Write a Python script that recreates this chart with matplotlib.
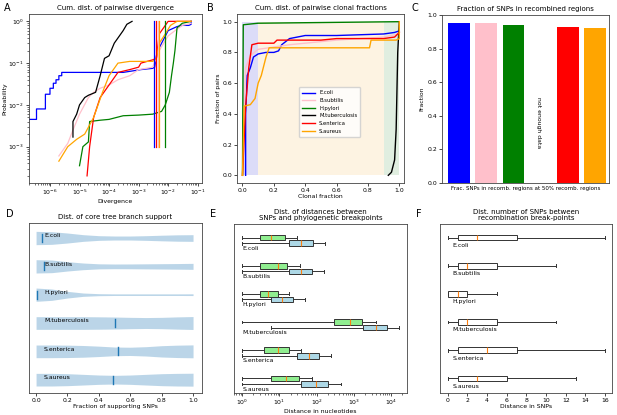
import numpy as np
import matplotlib
matplotlib.use("Agg")
import matplotlib.pyplot as plt

# species and colours shared by panels
species = ["E.coli", "B.subtilis", "H.pylori", "M.tuberculosis", "S.enterica", "S.aureus"]
colours = ["blue", "pink", "green", "black", "red", "orange"]

# A : cumulative distribution of pairwise divergence (x, y)
a_ecoli_x = [2e-7, 3.5e-7, 3.5e-7, 7e-7, 7e-7, 1e-6, 1e-6, 1.3e-6, 1.3e-6, 1.6e-6, 1.6e-6, 2e-6, 2e-6, 2.5e-6, 2.5e-6,
             3e-4, 1.2e-3, 3e-3, 3.5e-3, 4e-3, 4.5e-3, 6e-3, 1e-2, 2e-2, 3e-2, 5e-2, 6e-2, 6e-2]
a_ecoli_y = [4.5e-3, 4.5e-3, 8e-3, 8e-3, 1.8e-2, 1.8e-2, 2.5e-2, 2.5e-2, 3.3e-2, 3.3e-2, 4e-2, 4e-2, 5e-2, 5e-2, 6e-2,
             6e-2, 7e-2, 7.5e-2, 8e-2, 0.15, 0.2, 0.3, 0.6, 0.75, 0.8, 0.8, 0.85, 1.0]
a_bsub_x = [2e-6, 4e-6, 6e-6, 1e-5, 2e-5, 3e-5, 5e-5, 1e-4, 2e-4, 5e-4, 1e-3, 3e-3, 5e-3, 1e-2, 2e-2, 3e-2, 6e-2]
a_bsub_y = [6e-4, 1.2e-3, 2.5e-3, 6e-3, 1.5e-2, 2e-2, 2.5e-2, 3e-2, 4e-2, 5e-2, 7e-2, 8e-2, 0.2, 0.45, 0.65, 0.8, 0.9]
a_hpyl_x = [1e-5, 1.3e-5, 2e-5, 2.2e-5, 5e-5, 1e-4, 3e-4, 1e-3, 3e-3, 6e-3, 8e-3, 1.1e-2, 1.3e-2, 1.5e-2, 1.7e-2, 2e-2, 3e-2, 6e-2]
a_hpyl_y = [3.5e-4, 1e-3, 1.3e-3, 4e-3, 4.3e-3, 4.5e-3, 5.5e-3, 5.7e-3, 6e-3, 7e-3, 1e-2, 2e-2, 5e-2, 0.1, 0.2, 0.7, 0.9, 1.0]
a_mtub_x = [6e-6, 6e-6, 8e-6, 1e-5, 1.5e-5, 2e-5, 3.5e-5, 5e-5, 7e-5, 1e-4, 1.5e-4, 2e-4, 3e-4, 4e-4, 6e-4]
a_mtub_y = [1.7e-3, 4e-3, 6e-3, 1e-2, 1.5e-2, 1.7e-2, 2e-2, 5e-2, 0.13, 0.15, 0.3, 0.4, 0.6, 0.85, 1.0]
a_sent_x = [1.8e-5, 2.2e-5, 3e-5, 5e-5, 1e-4, 2e-4, 5e-4, 1e-3, 1.2e-3, 3e-3, 4e-3, 5e-3, 8e-3, 1e-2, 6e-2]
a_sent_y = [2e-4, 1e-3, 5e-3, 1.5e-2, 3e-2, 6e-2, 7e-2, 8e-2, 0.1, 0.12, 0.13, 0.5, 0.8, 1.0, 1.0]
a_saur_x = [2e-6, 4e-6, 8e-6, 1.5e-5, 3e-5, 6e-5, 1e-4, 2e-4, 5e-4, 3e-3, 4e-3, 5e-3, 8e-3, 1.2e-2, 2e-2, 6e-2]
a_saur_y = [4.5e-4, 1e-3, 1.5e-3, 2e-3, 5e-3, 2e-2, 5e-2, 0.1, 0.11, 0.11, 0.13, 0.3, 0.5, 0.8, 1.0, 1.0]
a_median = [3.2e-3, 4.4e-3, 7.7e-3, None, 4.0e-3, 4.9e-3]

# B : cumulative distribution of pairwise clonal fractions
b_ecoli_x = [0.02, 0.02, 0.03, 0.05, 0.07, 0.1, 0.15, 0.2, 0.23, 0.25, 0.3, 0.4, 0.6, 0.9, 0.97, 1.0]
b_ecoli_y = [0.0, 0.4, 0.65, 0.7, 0.77, 0.79, 0.8, 0.8, 0.81, 0.85, 0.89, 0.91, 0.91, 0.92, 0.93, 0.94]
b_bsub_x = [0.0, 0.02, 0.05, 0.1, 0.3, 0.6, 0.9, 1.0]
b_bsub_y = [0.0, 0.7, 0.78, 0.82, 0.85, 0.88, 0.9, 0.92]
b_hpyl_x = [0.0, 0.005, 0.1, 1.0]
b_hpyl_y = [0.0, 0.98, 0.99, 1.0]
b_mtub_x = [0.93, 0.95, 0.97, 0.98, 0.99, 1.0]
b_mtub_y = [0.0, 0.02, 0.1, 0.3, 0.8, 1.0]
b_sent_x = [0.0, 0.02, 0.04, 0.06, 0.1, 0.2, 0.22, 0.5, 0.6, 0.9, 0.97, 1.0]
b_sent_y = [0.0, 0.45, 0.7, 0.85, 0.86, 0.86, 0.88, 0.88, 0.89, 0.89, 0.9, 0.93]
b_saur_x = [0.0, 0.01, 0.05, 0.08, 0.1, 0.12, 0.15, 0.17, 0.3, 0.81, 0.82, 0.98, 1.0, 1.0]
b_saur_y = [0.0, 0.45, 0.46, 0.5, 0.6, 0.65, 0.77, 0.83, 0.83, 0.83, 0.88, 0.88, 0.89, 1.0]

# C : fraction of SNPs in recombined regions (nan = not enough data)
c_fraction = [0.95, 0.95, 0.94, np.nan, 0.93, 0.92]

# D : violin profiles (relative half width) over fraction of supporting SNPs
d_grid = [0.0, 0.1, 0.2, 0.3, 0.4, 0.5, 0.6, 0.7, 0.8, 0.9, 1.0]
d_profiles = [
    [1.0, 0.95, 0.75, 0.5, 0.35, 0.3, 0.3, 0.35, 0.42, 0.48, 0.5],
    [1.0, 0.95, 0.7, 0.5, 0.38, 0.35, 0.36, 0.38, 0.4, 0.42, 0.45],
    [1.0, 0.85, 0.5, 0.25, 0.15, 0.12, 0.12, 0.12, 0.12, 0.12, 0.13],
    [0.95, 0.95, 0.95, 0.95, 0.93, 0.9, 0.85, 0.82, 0.85, 0.92, 0.97],
    [0.95, 0.95, 0.93, 0.88, 0.78, 0.65, 0.62, 0.7, 0.85, 0.93, 0.97],
    [0.95, 0.95, 0.9, 0.8, 0.7, 0.65, 0.7, 0.8, 0.9, 0.95, 0.97],
]
d_median = [0.04, 0.05, 0.005, 0.5, 0.52, 0.49]

# E : distances SNP - breakpoints (whislo, q1, med, q3, whishi)
e_snp = [[1, 3, 6, 14, 30], [1, 3, 9, 16, 36], [1, 3, 5, 9, 18],
         [1, 290, 790, 1700, 3900], [1, 3.9, 9, 18, 39], [1, 6, 15, 33, 73]]
e_phylo = [[1, 18, 39, 78, 167], [1, 17.6, 39, 73, 157], [1, 6.1, 12, 23.5, 48],
           [6, 1730, 3860, 7900, 16700], [1, 30, 62, 118, 250], [1, 39, 96, 205, 450]]

# F : number of SNPs between recombination break-points
f_snps = [[0, 1, 3, 7, 16], [0, 1, 2, 5, 11], [0, 0, 1, 2, 5],
          [0, 1, 2, 5, 11], [0, 1, 4, 7, 16], [0, 1, 3, 6, 13]]

TF = 5.0   # title size
LF = 4.4   # label size
KF = 4.4   # tick size


def stats(rows):
    return [dict(whislo=r[0], q1=r[1], med=r[2], q3=r[3], whishi=r[4], fliers=[]) for r in rows]


def style(ax):
    for s in ax.spines.values():
        s.set_linewidth(0.6)
        s.set_color("#444444")
    ax.tick_params(labelsize=KF, width=0.5, length=2, pad=1.5)


fig = plt.figure(figsize=(6.17, 4.15), dpi=100)
W, H = 617.0, 415.0


def axes_px(x0, y0, x1, y1):
    return fig.add_axes([x0 / W, 1 - y1 / H, (x1 - x0) / W, (y1 - y0) / H])


# ---- A
ax = axes_px(29, 14, 202, 183)
a_x = [a_ecoli_x, a_bsub_x, a_hpyl_x, a_mtub_x, a_sent_x, a_saur_x]
a_y = [a_ecoli_y, a_bsub_y, a_hpyl_y, a_mtub_y, a_sent_y, a_saur_y]
for xs, ys, c in zip(a_x, a_y, colours):
    ax.plot(xs, ys, color=c, lw=0.9)
for m, c in zip(a_median, colours):
    if m is not None:
        ax.plot([m, m], [1e-3, 1.0], color=c, lw=0.9)
ax.set_xscale("log")
ax.set_yscale("log")
ax.set_xlim(1.95e-7, 0.14)
ax.set_ylim(1.35e-4, 1.5)
ax.set_title("Cum. dist. of pairwise divergence", fontsize=TF, pad=3)
ax.set_xlabel("Divergence", fontsize=LF, labelpad=1)
ax.set_ylabel("Probability", fontsize=LF, labelpad=1)
style(ax)
ax.tick_params(which="minor", width=0.4, length=1.2)

# ---- B
ax = axes_px(237, 14, 404, 183)
ax.fill_between([0.0, 0.1], 0, 1, color="#dcdcf8", lw=0)
ax.fill_between([0.1, 0.9], 0, 1, color="#fdf3e2", lw=0)
ax.fill_between([0.9, 1.0], 0, 1, color="#e0eee0", lw=0)
b_x = [b_ecoli_x, b_bsub_x, b_hpyl_x, b_mtub_x, b_sent_x, b_saur_x]
b_y = [b_ecoli_y, b_bsub_y, b_hpyl_y, b_mtub_y, b_sent_y, b_saur_y]
for xs, ys, c, name in zip(b_x, b_y, colours, species):
    ax.plot(xs, ys, color=c, lw=1.0, label=name)
ax.set_xlim(-0.035, 1.03)
ax.set_ylim(-0.05, 1.05)
ax.set_xticks(np.arange(0, 1.01, 0.2))
ax.set_yticks(np.arange(0, 1.01, 0.2))
ax.set_title("Cum. dist. of pairwise clonal fractions", fontsize=TF, pad=3)
ax.set_xlabel("Clonal fraction", fontsize=LF, labelpad=1)
ax.set_ylabel("Fraction of pairs", fontsize=LF, labelpad=1)
ax.legend(loc="center", bbox_to_anchor=(0.555, 0.42), fontsize=3.8, frameon=True,
          handlelength=2.4, borderpad=0.6, labelspacing=0.5, framealpha=0.8)
style(ax)

# ---- C
ax = axes_px(442, 15, 609, 183)
ax.bar(np.arange(len(species)), c_fraction, width=0.8, color=colours)
ax.text(2.9, 0.36, "not enough data", rotation=-90, ha="center", va="center", fontsize=LF)
ax.set_xlim(-0.62, 5.5)
ax.set_ylim(0, 1.0)
ax.set_xticks([])
ax.set_yticks(np.arange(0, 1.01, 0.2))
ax.set_title("Fraction of SNPs in recombined regions", fontsize=TF, pad=3)
ax.set_xlabel("Frac. SNPs in recomb. regions at 50% recomb. regions", fontsize=4.0, labelpad=2)
ax.set_ylabel("Fraction", fontsize=LF, labelpad=2)
style(ax)

# ---- D
ax = axes_px(29, 223, 202, 393)
for i, (prof, med, name) in enumerate(zip(d_profiles, d_median, species)):
    yc = i + 0.53
    hw = 0.235 * np.array(prof)
    ax.fill_between(d_grid, yc - hw, yc + hw, color="#1f77b4", alpha=0.3, lw=0)
    ax.plot([med, med], [yc - 0.14, yc + 0.14], color="#1f77b4", lw=1.0)
    ax.text(0.05, yc - 0.08, name, fontsize=LF, ha="left", va="center")
ax.set_ylim(6, 0)
ax.set_xlim(-0.045, 1.057)
ax.set_yticks([])
ax.set_xticks(np.arange(0, 1.01, 0.2))
ax.set_title("Dist. of core tree branch support", fontsize=TF, pad=3)
ax.set_xlabel("Fraction of supporting SNPs", fontsize=LF, labelpad=1)
style(ax)

# ---- E
ax = axes_px(234, 224, 407, 393)
pos = np.arange(len(species))
box_kw = dict(orientation="horizontal", patch_artist=True, widths=0.2, manage_ticks=False,
              whiskerprops=dict(lw=0.7, color="#333333"), capprops=dict(lw=0.7, color="#333333"),
              medianprops=dict(lw=0.8, color="#ff7f0e"))
ax.bxp(stats(e_snp), positions=pos + 0.48, boxprops=dict(facecolor="lightgreen", edgecolor="#333333", lw=0.7), **box_kw)
ax.bxp(stats(e_phylo), positions=pos + 0.68, boxprops=dict(facecolor="lightblue", edgecolor="#333333", lw=0.7), **box_kw)
for i, name in enumerate(species):
    ax.text(1.0, i + 0.86, name, fontsize=LF, ha="left", va="center")
ax.set_xscale("log")
ax.set_xlim(0.6, 2.7e4)
ax.set_ylim(6, 0)
ax.set_yticks([])
ax.set_title("Dist. of distances between\nSNPs and phylogenetic breakpoints", fontsize=TF, pad=3, linespacing=1.0)
ax.set_xlabel("Distance in nucleotides", fontsize=LF, labelpad=1)
style(ax)
ax.tick_params(which="minor", width=0.4, length=1.2)

# ---- F
ax = axes_px(440, 224, 612, 393)
ax.bxp(stats(f_snps), positions=pos + 0.48,
       boxprops=dict(facecolor="white", edgecolor="#333333", lw=0.7), **box_kw)
for i, name in enumerate(species):
    ax.text(0.5, i + 0.76, name, fontsize=LF, ha="left", va="center")
ax.set_xlim(-0.78, 16.7)
ax.set_ylim(6, 0)
ax.set_yticks([])
ax.set_xticks(np.arange(0, 17, 2))
ax.set_title("Dist. number of SNPs between\nrecombination break-points", fontsize=TF, pad=3, linespacing=1.0)
ax.set_xlabel("Distance in SNPs", fontsize=LF, labelpad=1)
style(ax)

# panel letters
for letter, (px, py) in zip("ABCDEF", [(4, 8), (207, 8), (412, 8), (6, 214), (210, 214), (416, 214)]):
    fig.text(px / W, 1 - py / H, letter, fontsize=7, ha="left", va="center")

fig.savefig("out.png", dpi=100)
